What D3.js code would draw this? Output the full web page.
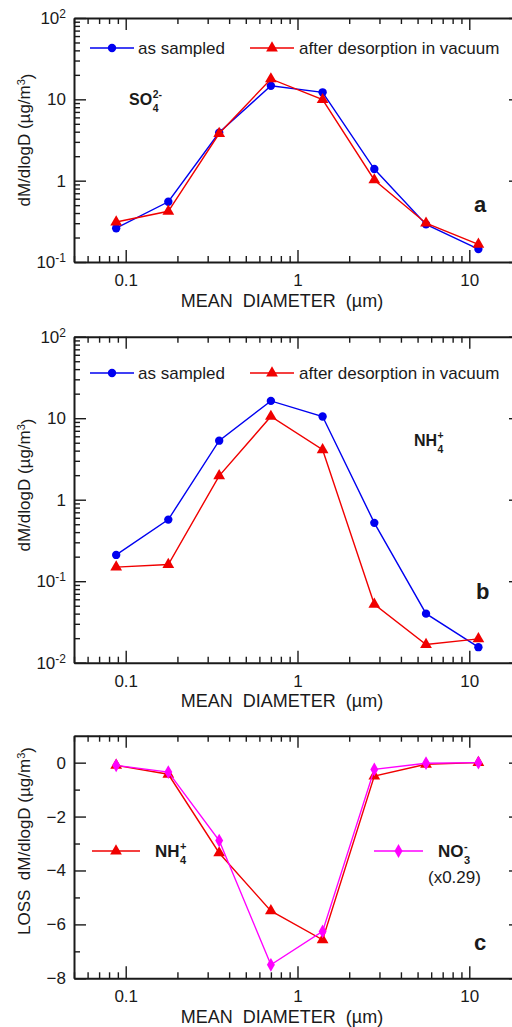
<!DOCTYPE html>
<html>
<head>
<meta charset="utf-8">
<script src="https://cdn.jsdelivr.net/npm/d3@7"></script>
<style>
body { margin: 0; background: #fff; }
svg { display: block; font-family: "Liberation Sans", Arial, sans-serif; }
</style>
</head>
<body>
<svg id="chart" width="512" height="1027"></svg>
<script>
// mean diameters (um) of the impactor stages
const diameters = [0.088, 0.177, 0.35, 0.70, 1.4, 2.8, 5.6, 11.3];

// panel a - sulfate
const so4Sampled = [0.26, 0.55, 3.9, 14.7, 12.2, 1.39, 0.29, 0.144];
const so4Desorbed = [0.31, 0.42, 3.8, 17.8, 9.9, 1.02, 0.30, 0.165];

// panel b - ammonium
const nh4Sampled = [0.21, 0.57, 5.3, 16.3, 10.5, 0.52, 0.040, 0.0155];
const nh4Desorbed = [0.149, 0.16, 1.96, 10.5, 4.1, 0.052, 0.0167, 0.0196];

// panel c - loss
const nh4Loss = [-0.1, -0.43, -3.35, -5.5, -6.57, -0.5, -0.06, 0];
const no3Loss = [-0.1, -0.35, -2.89, -7.5, -6.26, -0.25, -0.02, 0];

const xDomain = [0.05, 20];
const yDomainA = [0.1, 100];
const yDomainB = [0.01, 100];
const yDomainC = [-8, 1];

const legendSampled = "as sampled";
const legendDesorbed = "after desorption in vacuum";
const xTitle = "MEAN  DIAMETER  (\u00b5m)";

const BLUE = "#0000f0", RED = "#f00000", MAGENTA = "#ff00ff", INK = "#1a1a1a";

const svg = d3.select("#chart");
const left = 74, right = 521;

const x = d3.scaleLog().domain(xDomain).range([left, right]);

const isDecade = v => Math.abs(Math.log10(Math.abs(v)) - Math.round(Math.log10(Math.abs(v)))) < 1e-6;

function frame(top, bottom, y, log, yTitle, yTitleCenter) {
  const g = svg.append("g");
  const xTicks = x.ticks();
  const yTicks = log ? y.ticks() : d3.range(yDomainC[0], yDomainC[1], 1);
  const yMajor = log ? isDecade : (d => d % 2 === 0);

  const fixMajor = (sel, attr, len) => sel.selectAll(".tick line").filter(attr).attr(len[0], len[1]);

  // bottom
  const bx = g.append("g").attr("transform", `translate(0,${bottom})`)
    .call(d3.axisBottom(x).tickValues(xTicks).tickSize(-6).tickSizeOuter(0)
      .tickFormat(d => isDecade(d) ? d3.format("~g")(d) : ""));
  fixMajor(bx, isDecade, ["y2", -12]);
  bx.selectAll(".tick text").attr("y", 24).attr("dy", 0);

  // top
  const tx = g.append("g").attr("transform", `translate(0,${top})`)
    .call(d3.axisTop(x).tickValues(xTicks).tickSize(-6).tickSizeOuter(0).tickFormat(""));
  fixMajor(tx, isDecade, ["y2", 12]);

  // left
  const ly = g.append("g").attr("transform", `translate(${left},0)`)
    .call(d3.axisLeft(y).tickValues(yTicks).tickSize(-6).tickSizeOuter(0).tickPadding(8)
      .tickFormat(d => yMajor(d) ? d3.format("~g")(d) : ""));
  fixMajor(ly, yMajor, ["x2", 12]);
  if (log) {
    ly.selectAll(".tick text").filter(d => isDecade(d) && (d > 10 || d < 1)).each(function(d) {
      const e = String(Math.round(Math.log10(d)));
      const t = d3.select(this).text("10");
      t.append("tspan").attr("dy", "-0.5em").attr("font-size", 12).text(e);
    });
  }

  // right
  const ry = g.append("g").attr("transform", `translate(${right},0)`)
    .call(d3.axisRight(y).tickValues(yTicks).tickSize(-6).tickSizeOuter(0).tickFormat(""));
  fixMajor(ry, yMajor, ["x2", -12]);

  g.selectAll(".domain").attr("stroke", INK).attr("stroke-width", 2);
  g.selectAll(".tick line").attr("stroke", INK).attr("stroke-width", 1.4);
  g.selectAll("text").attr("font-family", null).attr("font-size", null);
  g.selectAll(".tick text").attr("fill", INK).style("font-size", "17px");
  g.selectAll("g").attr("font-family", null).attr("font-size", null);

  g.append("text")
    .attr("x", 282).attr("y", bottom + 44.5)
    .attr("text-anchor", "middle").attr("fill", INK)
    .style("font-size", "18px").style("white-space", "pre")
    .text(xTitle);

  const yt = g.append("text")
    .attr("transform", `translate(30,${yTitleCenter}) rotate(-90)`)
    .attr("text-anchor", "middle").attr("fill", INK)
    .style("font-size", "17px").style("white-space", "pre");
  yt.append("tspan").text(yTitle + "dM/dlogD (\u00b5g/m");
  yt.append("tspan").attr("dy", "-0.5em").style("font-size", "11px").text("3");
  yt.append("tspan").attr("dy", "0.5em").text(")");
}

function series(y, values, color, symbol, size) {
  const pts = d3.zip(diameters, values);
  const line = d3.line().x(d => x(d[0])).y(d => y(d[1]));
  svg.append("path").datum(pts)
    .attr("d", line).attr("fill", "none")
    .attr("stroke", color).attr("stroke-width", 1.4);
  svg.append("g").selectAll("path").data(pts).join("path")
    .attr("transform", d => `translate(${x(d[0])},${y(d[1])})`)
    .attr("d", d3.symbol().type(symbol).size(size))
    .attr("fill", color);
}

function legendItem(x0, x1, yy, color, symbol, size) {
  svg.append("line").attr("x1", x0).attr("x2", x1).attr("y1", yy).attr("y2", yy)
    .attr("stroke", color).attr("stroke-width", 1.4);
  svg.append("path").attr("transform", `translate(${(x0 + x1) / 2},${yy})`)
    .attr("d", d3.symbol().type(symbol).size(size)).attr("fill", color);
}

function label(x0, y0, txt, size, bold) {
  return svg.append("text").attr("x", x0).attr("y", y0).attr("fill", INK)
    .style("font-size", size + "px").style("font-weight", bold ? "bold" : "normal")
    .text(txt);
}

function chem(x0, y0, base, sub, sup, size) {
  const t = label(x0, y0, base, size, true);
  const w = t.node().getComputedTextLength();
  label(x0 + w + 0.5, y0 + 7, sub, size * 0.65, true);
  label(x0 + w + 0.5, y0 - 7, sup, size * 0.65, true);
}

// ---- panel a
const yA = d3.scaleLog().domain(yDomainA).range([262, 18]);
frame(18, 262, yA, true, "", 140);
series(yA, so4Sampled, BLUE, d3.symbolCircle, 55);
series(yA, so4Desorbed, RED, d3.symbolTriangle, 60);
legendItem(90, 134, 48, BLUE, d3.symbolCircle, 55);
label(138, 54, legendSampled, 17, false);
legendItem(250, 294, 48, RED, d3.symbolTriangle, 60);
label(299, 54, legendDesorbed, 17, false);
chem(129, 105, "SO", "4", "2-", 16);
label(474, 212, "a", 22, true);

// ---- panel b
const yB = d3.scaleLog().domain(yDomainB).range([662.7, 336.7]);
frame(336.7, 662.7, yB, true, "", 485);
series(yB, nh4Sampled, BLUE, d3.symbolCircle, 55);
series(yB, nh4Desorbed, RED, d3.symbolTriangle, 60);
legendItem(90, 134, 373, BLUE, d3.symbolCircle, 55);
label(138, 379, legendSampled, 17, false);
legendItem(250, 294, 373, RED, d3.symbolTriangle, 60);
label(299, 379, legendDesorbed, 17, false);
chem(414, 446, "NH", "4", "+", 16);
label(476, 599, "b", 22, true);

// ---- panel c
const yC = d3.scaleLinear().domain(yDomainC).range([978.3, 735.7]);
frame(735.7, 978.3, yC, false, "LOSS  ", 841);
series(yC, nh4Loss, RED, d3.symbolTriangle, 60);
series(yC, no3Loss, MAGENTA, d3.symbolDiamond, 55);
legendItem(92, 140, 851, RED, d3.symbolTriangle, 60);
chem(155, 857, "NH", "4", "+", 17);
legendItem(374, 423, 851, MAGENTA, d3.symbolDiamond, 55);
chem(438, 857, "NO", "3", "-", 17);
label(428, 883, "(x0.29)", 17, false);
label(474, 950, "c", 22, true);
</script>
</body>
</html>
